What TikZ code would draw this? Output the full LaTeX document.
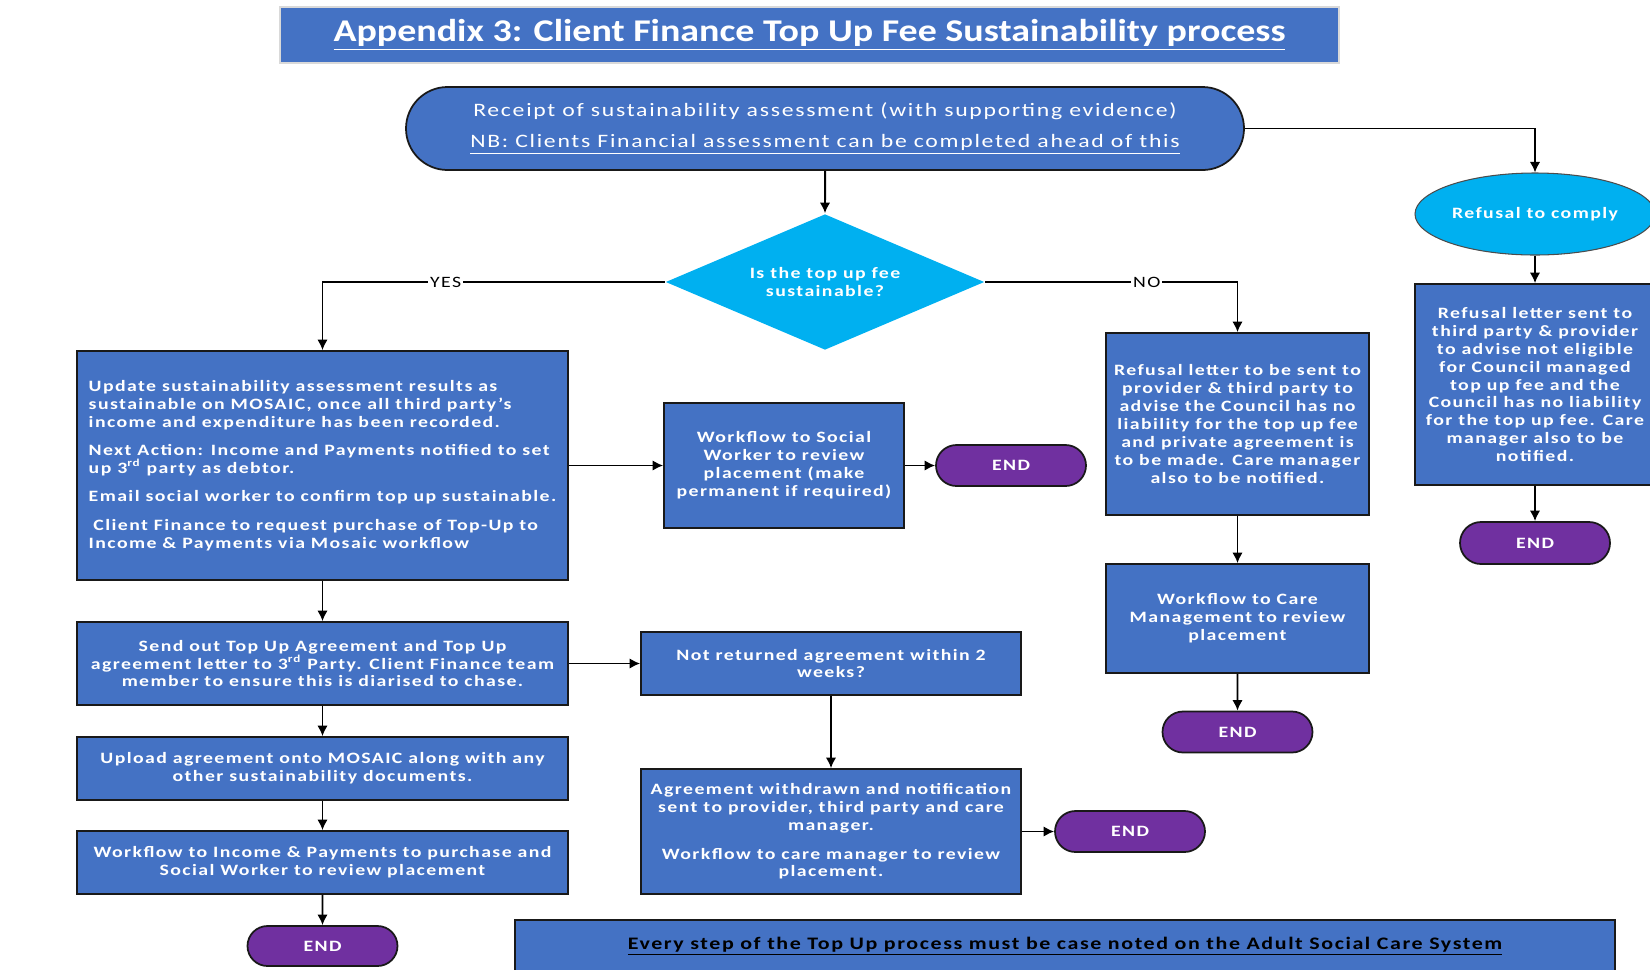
\documentclass[tikz,border=0pt]{standalone}
\usepackage{fontspec}
\setmainfont{Carlito}[FakeStretch=1.2]
\newfontfamily\boxfont{Carlito}[FakeStretch=1.25,LetterSpace=9]
\usepackage{tikz}
\usetikzlibrary{shapes.geometric,shapes.misc,arrows.meta,positioning}

\definecolor{tublue}{HTML}{4472C4}
\definecolor{tucyan}{HTML}{00B0F0}
\definecolor{tupurple}{HTML}{7030A0}

\tikzset{
  wh/.style 2 args = {minimum width=#1*0.2mm, minimum height=#2*0.2mm},
  topup schemes/.style = {
    x = 0.2mm, y = -0.2mm,
    line width    = 1pt,
    % Блоки
    blk/.style  = {
      draw=black!90, fill=tublue, text=white,
      inner sep=0pt, align=center,
      font=\boxfont\bfseries\fontsize{9}{10.2}\selectfont
    },
    % Начало, конец
    strt/.style = { blk, rounded rectangle,
      font=\boxfont\fontsize{10.8}{13}\selectfont },
    trm/.style  = { blk, rounded rectangle, fill=tupurple },
    % Решение
    dcs/.style  = { blk, draw=none, fill=tucyan,
      diamond, shape aspect=2.35 },
    ovl/.style  = { blk, draw=black!70, line width=0.6pt,
      fill=tucyan, ellipse },
    % Заголовок и примечание
    ttlbox/.style  = { draw=black!15, fill=tublue, text=white,
      font=\bfseries\fontsize{18}{21}\selectfont },
    notebox/.style = { blk, text=black,
      font=\boxfont\bfseries\fontsize{10}{12}\selectfont },
    % Линии, стрелки
    connect line/.style = {line width=1.1pt, black,
      -{Latex[length=6pt,width=6pt]}},
    lbl/.style = {fill=white, inner sep=1pt, text=black,
      font=\boxfont\fontsize{9}{10}\selectfont},
  }
}

\begin{document}
\begin{tikzpicture}[topup schemes]
\useasboundingbox (0,0) rectangle (1650,969);

\node[ttlbox, wh={1059}{56}] (ttl) at (809.5,35)
  {\underline{Appendix 3: Client Finance Top Up Fee Sustainability process}};

\node[strt, wh={838}{83}] (recv) at (825,128.5)
  {Receipt of sustainability assessment (with supporting evidence)\\[5pt]
   \underline{NB: Clients Financial assessment can be completed ahead of this}};

\node[dcs, wh={319}{136}] (sust) at (825,282) {Is the top up fee\\sustainable?};
\node[ovl, wh={240}{82}] (rfc) at (1535,214) {Refusal to comply};

% Ветка YES
\node[blk, wh={491}{229}, align=left] (upd) at (322.5,465.5)
  {Update sustainability assessment results as\\
   sustainable on MOSAIC, once all third party’s\\
   income and expenditure has been recorded.\\[6pt]
   Next Action: Income and Payments notified to set\\
   up 3\textsuperscript{rd} party as debtor.\\[6pt]
   Email social worker to confirm top up sustainable.\\[6pt]
   \hspace{0.3em}Client Finance to request purchase of Top-Up to\\
   Income \& Payments via Mosaic workflow};
\node[blk, wh={240}{125}] (wsw) at (784,465.5)
  {Workflow to Social\\Worker to review\\placement (make\\permanent if required)};
\node[trm, wh={150}{41}] (endsw) at (1011,465.5) {END};

\node[blk, wh={491}{83}] (send) at (322.5,663.5)
  {Send out Top Up Agreement and Top Up\\
   agreement letter to 3\textsuperscript{rd} Party. Client Finance team\\
   member to ensure this is diarised to chase.};
\node[blk, wh={380}{63}] (nret) at (831,663.5)
  {Not returned agreement within 2\\weeks?};
\node[blk, wh={380}{125}] (wdr) at (831,831.5)
  {Agreement withdrawn and notification\\
   sent to provider, third party and care\\
   manager.\\[6pt]
   Workflow to care manager to review\\placement.};
\node[trm, wh={150}{41}] (endwd) at (1130,831.5) {END};

\node[blk, wh={491}{63}] (upl) at (322.5,768.5)
  {Upload agreement onto MOSAIC along with any\\other sustainability documents.};
\node[blk, wh={491}{63}] (wip) at (322.5,862.5)
  {Workflow to Income \& Payments to purchase and\\Social Worker to review placement};
\node[trm, wh={150}{40}] (endip) at (322.5,946) {END};

% Ветка NO
\node[blk, wh={263}{182}] (rno) at (1237.5,424)
  {Refusal letter to be sent to\\provider \& third party to\\
   advise the Council has no\\liability for the top up fee\\
   and private agreement is\\to be made. Care manager\\also to be notified.};
\node[blk, wh={263}{109}] (wcm) at (1237.5,618.5)
  {Workflow to Care\\Management to review\\placement};
\node[trm, wh={150}{41}] (endcm) at (1237.5,732) {END};

% Отказ
\node[blk, wh={240}{201}] (rlet) at (1535,384.5)
  {Refusal letter sent to\\third party \& provider\\to advise not eligible\\
   for Council managed\\top up fee and the\\Council has no liability\\
   for the top up fee. Care\\manager also to be\\notified.};
\node[trm, wh={150}{42}] (endrf) at (1535,543) {END};

\node[notebox, wh={1100}{52}] (note) at (1065,946)
  {\underline{Every step of the Top Up process must be case noted on the Adult Social Care System}};

\draw[connect line] (recv.east) -| (rfc.north);
\draw[connect line] (sust.west) -| node[lbl, pos=0.32] {YES} (upd.north);
\draw[connect line] (sust.east) -| node[lbl, pos=0.32] {NO} (rno.north);
\foreach \a/\b in {recv/sust, upd/wsw, wsw/endsw, upd/send, send/nret,
    nret/wdr, wdr/endwd, send/upl, upl/wip, wip/endip,
    rno/wcm, wcm/endcm, rfc/rlet, rlet/endrf}
  \draw[connect line] (\a) -- (\b);

\end{tikzpicture}
\end{document}
